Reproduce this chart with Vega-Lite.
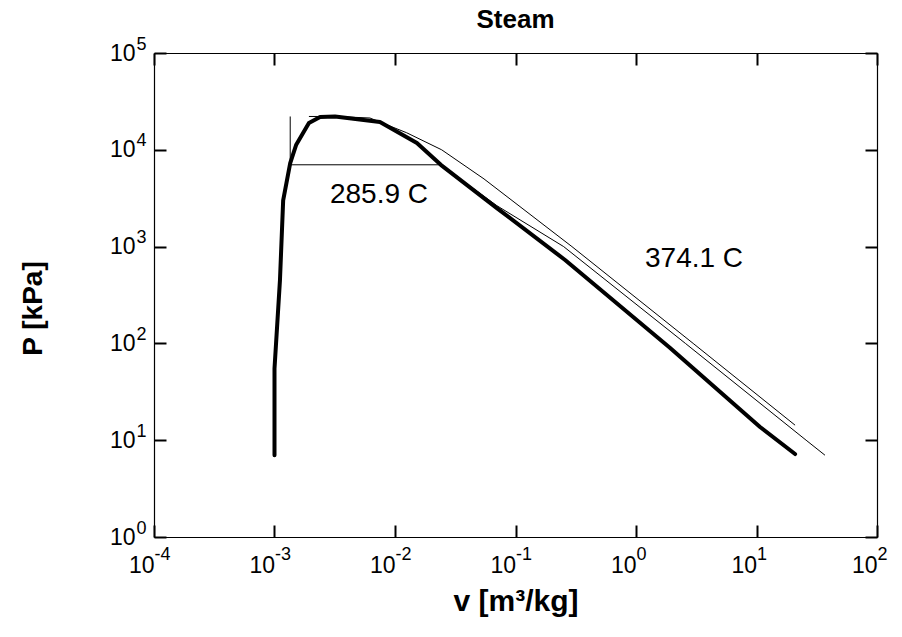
{
  "$schema": "https://vega.github.io/schema/vega-lite/v6.json",
  "width": 723,
  "height": 484,
  "autosize": {"type": "none"},
  "padding": {"left": 154, "top": 53, "right": 25, "bottom": 100},
  "background": "white",
  "config": {
    "view": {"stroke": null},
    "font": "Liberation Sans",
    "axis": {"grid": false, "domainColor": "black", "tickColor": "black", "labelColor": "black", "titleColor": "black", "labelFont": "Liberation Sans", "titleFont": "Liberation Sans"}
  },
  "title": {"text": "Steam", "fontSize": 26, "fontWeight": "bold", "font": "Liberation Sans", "color": "black", "anchor": "middle", "frame": "group", "baseline": "alphabetic", "offset": -19},
  "datasets": {
    "sat": [
      {"i": 1, "v": 0.001, "P": 7},
      {"i": 2, "v": 0.001, "P": 55},
      {"i": 3, "v": 0.00111, "P": 450},
      {"i": 4, "v": 0.00118, "P": 3000},
      {"i": 5, "v": 0.00135, "P": 7300},
      {"i": 6, "v": 0.00151, "P": 11200},
      {"i": 7, "v": 0.00193, "P": 18900},
      {"i": 8, "v": 0.00239, "P": 21800},
      {"i": 9, "v": 0.00318, "P": 22090},
      {"i": 10, "v": 0.0075, "P": 19400},
      {"i": 11, "v": 0.0152, "P": 11750},
      {"i": 12, "v": 0.024, "P": 7000},
      {"i": 13, "v": 0.07, "P": 2500},
      {"i": 14, "v": 0.258, "P": 727},
      {"i": 15, "v": 1.91, "P": 90},
      {"i": 16, "v": 10.7, "P": 13.7},
      {"i": 17, "v": 20.9, "P": 7.2}
    ],
    "iso": [
      {"series": "374.1 C", "i": 1, "v": 0.00193, "P": 22090},
      {"series": "374.1 C", "i": 2, "v": 0.00318, "P": 22090},
      {"series": "374.1 C", "i": 3, "v": 0.0062, "P": 21300},
      {"series": "374.1 C", "i": 4, "v": 0.0125, "P": 15000},
      {"series": "374.1 C", "i": 5, "v": 0.0244, "P": 10000},
      {"series": "374.1 C", "i": 6, "v": 0.0548, "P": 5000},
      {"series": "374.1 C", "i": 7, "v": 0.294, "P": 1000},
      {"series": "374.1 C", "i": 8, "v": 2.98, "P": 100},
      {"series": "374.1 C", "i": 9, "v": 20.9, "P": 14.3},
      {"series": "285.9 C", "i": 1, "v": 0.00135, "P": 22090},
      {"series": "285.9 C", "i": 2, "v": 0.00135, "P": 7000},
      {"series": "285.9 C", "i": 3, "v": 0.024, "P": 7000},
      {"series": "285.9 C", "i": 4, "v": 0.07, "P": 2650},
      {"series": "285.9 C", "i": 5, "v": 0.251, "P": 1000},
      {"series": "285.9 C", "i": 6, "v": 2.57, "P": 100},
      {"series": "285.9 C", "i": 7, "v": 25.8, "P": 10},
      {"series": "285.9 C", "i": 8, "v": 37, "P": 7}
    ],
    "notes": [
      {"label": "285.9 C", "v": 0.00736, "P": 3413},
      {"label": "374.1 C", "v": 3.03, "P": 745}
    ]
  },
  "layer": [
    {
      "data": {"name": "sat"},
      "mark": {"type": "line", "stroke": "black", "strokeWidth": 4, "strokeJoin": "round", "strokeCap": "round", "clip": false},
      "encoding": {
        "x": {"field": "v", "type": "quantitative", "scale": {"type": "log", "domain": [0.0001, 100], "nice": false},
          "axis": {"orient": "bottom", "values": [0.0001, 0.001, 0.01, 0.1, 1, 10, 100], "labelExpr": "'10'", "labelAlign": "right", "labelDx": 2, "labelBaseline": "top", "labelPadding": 29, "labelFontSize": 23, "labelFlush": false, "labelOverlap": false, "tickSize": -12, "tickWidth": 2, "domainWidth": 1.2, "title": "v [m³/kg]", "titleFontSize": 30, "titleFontWeight": "bold", "titlePadding": 9}},
        "y": {"field": "P", "type": "quantitative", "scale": {"type": "log", "domain": [1, 100000], "nice": false},
          "axis": {"orient": "left", "values": [1, 10, 100, 1000, 10000, 100000], "labelExpr": "'10'", "labelAlign": "right", "labelBaseline": "middle", "labelPadding": 31, "labelFontSize": 23, "labelFlush": false, "labelOverlap": false, "tickSize": -12, "tickWidth": 2, "domainWidth": 1.2, "title": "P [kPa]", "titleFontSize": 28, "titleFontWeight": "bold", "titlePadding": 62, "titleY": 255}},
        "order": {"field": "i"}
      }
    },
    {
      "data": {"name": "iso"},
      "mark": {"type": "line", "stroke": "black", "strokeWidth": 1, "clip": false},
      "encoding": {
        "x": {"field": "v", "type": "quantitative", "scale": {"type": "log", "domain": [0.0001, 100], "nice": false},
          "axis": {"orient": "bottom", "values": [0.0001, 0.001, 0.01, 0.1, 1, 10, 100], "labelExpr": "'' + round(log(datum.value)/LN10)", "labelAlign": "left", "labelDx": 2, "labelBaseline": "top", "labelPadding": 20, "labelFontSize": 18, "labelFlush": false, "labelOverlap": false, "tickSize": -12, "tickOpacity": 0, "domain": false, "title": null}},
        "y": {"field": "P", "type": "quantitative", "scale": {"type": "log", "domain": [1, 100000], "nice": false},
          "axis": {"orient": "left", "values": [1, 10, 100, 1000, 10000, 100000], "labelExpr": "'' + round(log(datum.value)/LN10)", "labelAlign": "left", "labelBaseline": "bottom", "labelPadding": 30, "labelFontSize": 18, "labelFlush": false, "labelOverlap": false, "tickSize": -12, "tickOpacity": 0, "domain": false, "title": null}},
        "detail": {"field": "series"},
        "order": {"field": "i"}
      }
    },
    {
      "data": {"name": "notes"},
      "mark": {"type": "text", "font": "Liberation Sans", "fontSize": 28, "color": "black", "align": "center", "baseline": "middle"},
      "encoding": {
        "x": {"field": "v", "type": "quantitative", "scale": {"type": "log", "domain": [0.0001, 100], "nice": false},
          "axis": {"orient": "top", "values": [0.0001, 0.001, 0.01, 0.1, 1, 10, 100], "labels": false, "tickSize": -12, "tickWidth": 2, "domainWidth": 1.2, "title": null}},
        "y": {"field": "P", "type": "quantitative", "scale": {"type": "log", "domain": [1, 100000], "nice": false},
          "axis": {"orient": "right", "values": [1, 10, 100, 1000, 10000, 100000], "labels": false, "tickSize": -12, "tickWidth": 2, "domainWidth": 1.2, "title": null}},
        "text": {"field": "label"}
      }
    }
  ],
  "resolve": {"axis": {"x": "independent", "y": "independent"}}
}
